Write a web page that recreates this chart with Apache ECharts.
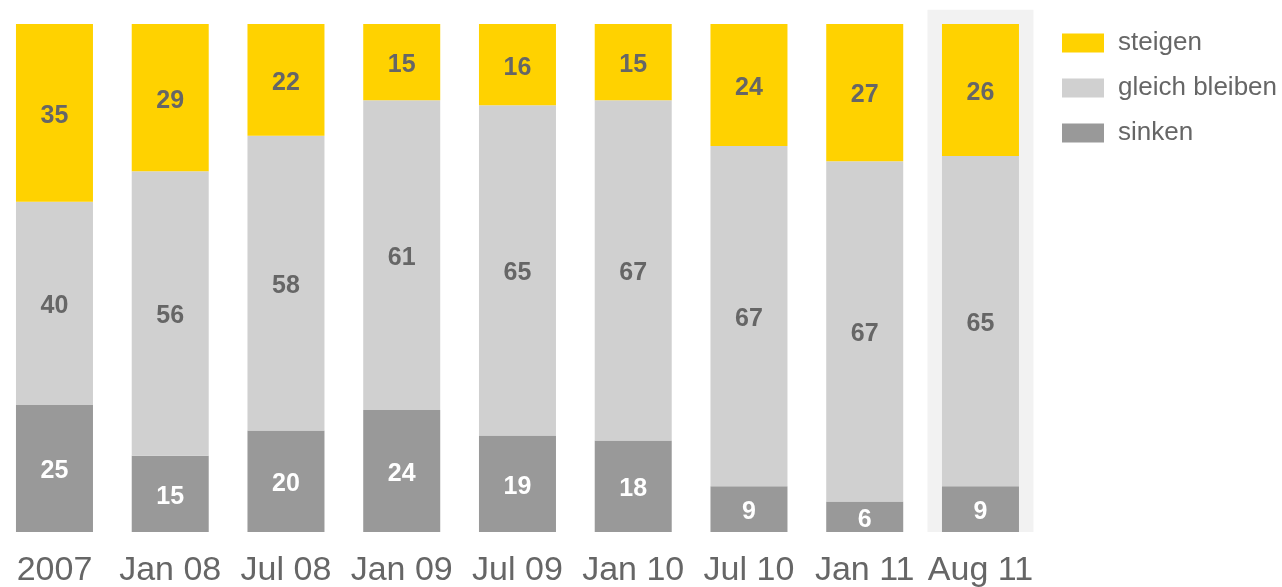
<!DOCTYPE html>
<html><head><meta charset="utf-8">
<script src="https://cdn.jsdelivr.net/npm/echarts@6/dist/echarts.min.js"></script>
<style>html,body{margin:0;padding:0;background:#fff}#c{width:1282px;height:587px}</style>
</head><body><div id="c"></div>
<script>
var categories = ['2007','Jan 08','Jul 08','Jan 09','Jul 09','Jan 10','Jul 10','Jan 11','Aug 11'];
var sinken = [25,15,20,24,19,18,9,6,9];
var gleich = [40,56,58,61,65,67,67,67,65];
var steigen = [35,29,22,15,16,15,24,27,26];
var highlight = [null,null,null,null,null,null,null,null,102.8];

var chart = echarts.init(document.getElementById('c'));
var font = "'Liberation Sans'";
function lab(color){return {show:true,position:'inside',offset:[0,3],color:color,fontFamily:font,fontWeight:'bold',fontSize:25};}
chart.setOption({
  animation:false,
  grid:{left:-3.4,width:1041.75,top:24,height:508,containLabel:false,outerBoundsMode:'none'},
  legend:{orient:'vertical',left:1057,top:25,itemWidth:42,itemHeight:19,itemGap:19,icon:'rect',
    data:['steigen','gleich bleiben','sinken'],
    textStyle:{color:'#666',fontFamily:font,fontSize:26,padding:[2,0,0,9]}},
  xAxis:[{type:'category',data:categories,axisLine:{show:false},axisTick:{show:false},
    axisLabel:{color:'#666',fontFamily:font,fontSize:34,margin:22,interval:0}},
    {type:'category',data:categories,show:false}],
  yAxis:[{type:'value',min:0,max:100,show:false,splitLine:{show:false}}],
  series:[
    {type:'bar',xAxisIndex:1,data:highlight,barWidth:106,clip:false,z:0,silent:true,
     itemStyle:{color:'#f2f2f2'},legendHoverLink:false},
    {name:'sinken',type:'bar',stack:'a',data:sinken,barWidth:77,itemStyle:{color:'#999999'},label:lab('#ffffff'),z:2},
    {name:'gleich bleiben',type:'bar',stack:'a',data:gleich,barWidth:77,itemStyle:{color:'#d0d0d0'},label:lab('#666666'),z:2},
    {name:'steigen',type:'bar',stack:'a',data:steigen,barWidth:77,itemStyle:{color:'#ffd200'},label:lab('#666666'),z:2}
  ]
});
</script></body></html>
